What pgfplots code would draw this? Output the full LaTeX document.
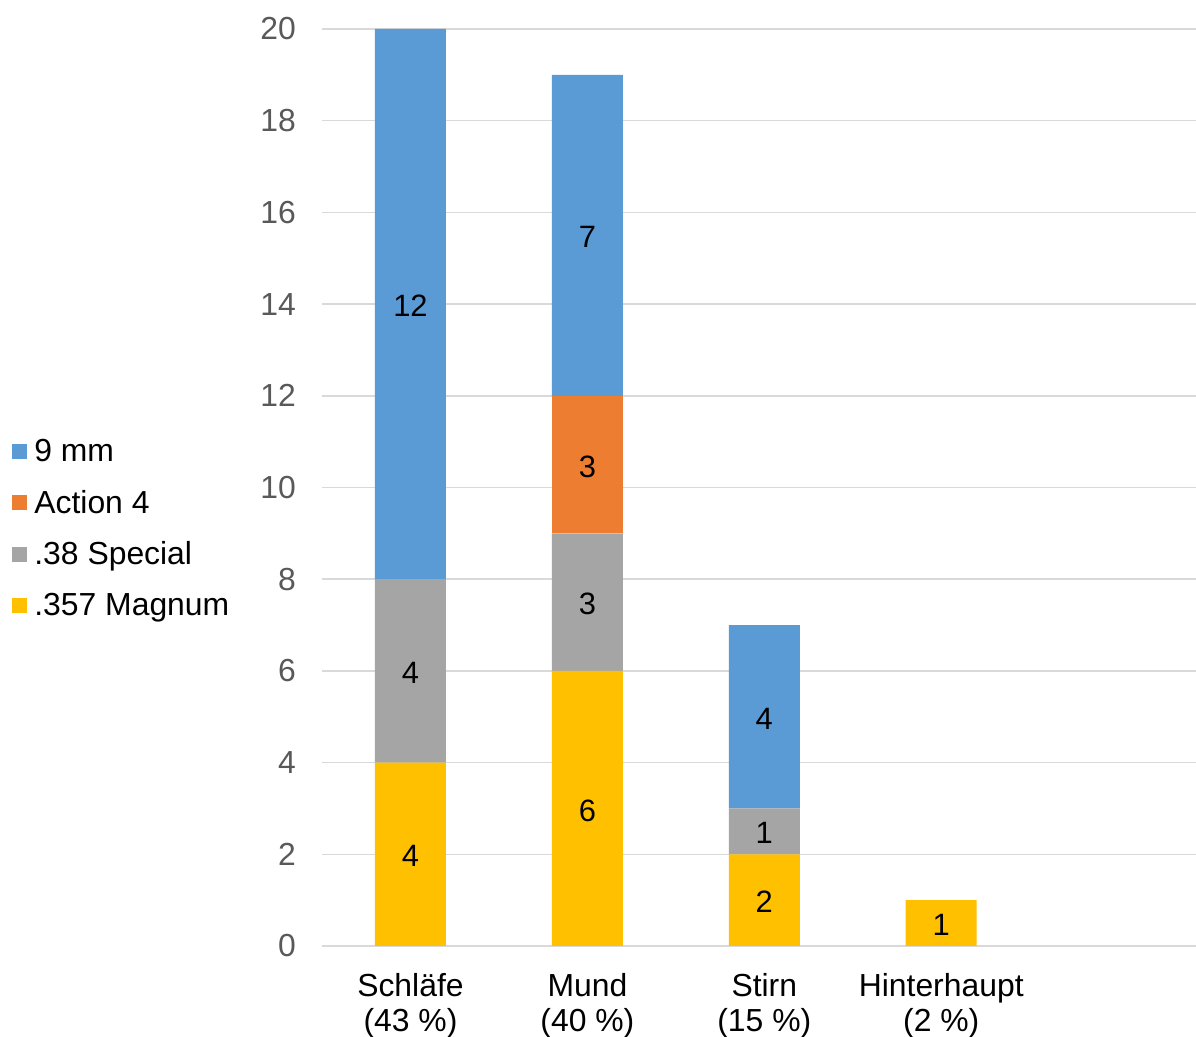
\documentclass[border=0pt]{standalone}
\usepackage{pgfplots}
\pgfplotsset{compat=1.18}
\usepackage{fontspec}
\setmainfont{Liberation Sans}

\definecolor{cBlue}{HTML}{5B9BD5}
\definecolor{cOrange}{HTML}{ED7D31}
\definecolor{cGray}{HTML}{A5A5A5}
\definecolor{cYellow}{HTML}{FFC000}
\definecolor{cGrid}{HTML}{D9D9D9}
\definecolor{cTick}{HTML}{595959}

\pgfplotsset{
  base/.style={
    scale only axis,
    width=437bp, height=458.5bp,
    at={(161bp,45.5bp)}, anchor=south west,
    xmin=-0.5, xmax=4.44,
    ymin=0, ymax=20,
    bar width=35.5bp,
  },
}

\begin{document}
\begin{tikzpicture}
\path[use as bounding box] (0,0) rectangle (598bp,518.5bp);

% stacked bars by entry wound site
\begin{axis}[
  base,
  ybar stacked,
  axis line style={draw=none},
  major tick length=0pt,
  ymajorgrids,
  major grid style={cGrid, line width=0.75bp},
  ytick={0,2,...,20},
  xtick={0,1,2,3},
  xticklabels={{Schläfe\\(43~\%)},{Mund\\(40~\%)},{Stirn\\(15~\%)},{Hinterhaupt\\(2~\%)}},
  /pgf/number format/assume math mode=true,
  yticklabel style={font=\fontsize{16}{19}\selectfont, text=cTick, xshift=-9.5bp},
  xticklabel style={font=\fontsize{16}{17.5}\selectfont, text=black, align=center, yshift=-10bp},
  reverse legend,
  legend style={
    at={(-0.3547,0.455)}, anchor=west,
    draw=none, fill=none, inner sep=0pt,
    font=\fontsize{16}{19}\selectfont,
    row sep=8.75bp,
    cells={anchor=west},
    /tikz/every odd column/.append style={column sep=1.5bp},
  },
  legend image code/.code={\fill[#1] (0bp,-3.75bp) rectangle (7.5bp,3.75bp);},
]
\addplot[fill=cYellow, draw=none] coordinates {(0,4) (1,6) (2,2) (3,1)};
\addlegendentry{.357 Magnum}
\addplot[fill=cGray, draw=none] coordinates {(0,4) (1,3) (2,1) (3,0)};
\addlegendentry{.38 Special}
\addplot[fill=cOrange, draw=none] coordinates {(0,0) (1,3) (2,0) (3,0)};
\addlegendentry{Action 4}
\addplot[fill=cBlue, draw=none] coordinates {(0,12) (1,7) (2,4) (3,0)};
\addlegendentry{9 mm}
\end{axis}

% segment value labels, centred in each segment
\begin{axis}[
  base,
  hide axis,
]
\addplot[draw=none, mark=none, nodes near coords, point meta=explicit symbolic,
  every node near coord/.append style={anchor=center, yshift=-1bp, font=\fontsize{15.5}{18}\selectfont, text=black}]
  coordinates {
    (0,2) [4] (0,6) [4] (0,14) [12]
    (1,3) [6] (1,7.5) [3] (1,10.5) [3] (1,15.5) [7]
    (2,1) [2] (2,2.5) [1] (2,5) [4]
    (3,0.5) [1]
  };
\end{axis}
\end{tikzpicture}
\end{document}
